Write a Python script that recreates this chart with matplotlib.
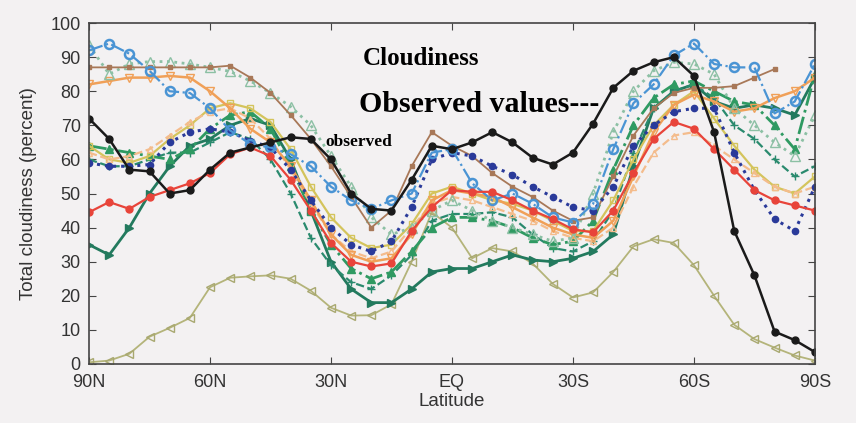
import matplotlib.pyplot as plt

# --- dados ---
lat = [90, 85, 80, 75, 70, 65, 60, 55, 50, 45, 40, 35, 30, 25, 20, 15, 10, 5, 0,
       -5, -10, -15, -20, -25, -30, -35, -40, -45, -50, -55, -60, -65, -70, -75, -80, -85, -90]

observed = [72, 66, 57, 56.5, 50, 51, 57, 62, 63.5, 65, 66.5, 66, 60, 50, 45.5, 45, 54, 64, 63,
            65, 68, 65, 60.5, 58.5, 62, 70.5, 81, 86, 88.5, 90, 84.5, 68, 39, 26, 9.5, 7, 3.5]
red = [44.5, 47.5, 45.5, 49, 51, 53, 56, 61.5, 63.5, 61, 54, 45, 35.5, 30, 28.6, 29.5, 39, 46, 51,
       50.5, 50.5, 48, 45, 42.5, 39.5, 38.6, 45, 56, 66, 71, 69, 63, 57, 51, 48, 46.5, 45]
blue = [92, 94, 91, 86, 80, 79.5, 75, 68.5, 64.5, 63.5, 61.5, 58, 52, 48, 45.5, 48, 50, 62, 63,
        53, 48, 50, 47, 43, 41.5, 47, 63, 76.5, 82, 90.5, 94, 88, 87, 87, 73.5, 77, 88]
navy = [59, 58, 58, 58.5, 65, 68, 69, 68, 65.5, 63.5, 57, 48, 40, 35, 33, 36, 46, 60, 62,
        61, 58, 55.5, 52, 49, 46, 45, 52, 64, 70, 74, 75, 75, 62, 51, 42.5, 39, 52]
brown = [87, 87, 87, 87, 87, 87, 87, 87.5, 84, 79.5, 73, 66, 58, 49, 40, 45, 58, 68, 64,
         61, 56, 52, 49, 45, 42, 43, 55, 67, 75, 79.5, 81, 81, 81.5, 84, 86.5, None, None]
sage = [93.5, 85, 88, 88.7, 88.7, 88, 87, 85.8, 83, 79.5, 75.5, 70, 61, 52, 43, 38, 40, 45, 48,
        45, 42, 40, 38, 36, 37, 50, 68, 80, 86, 88.5, 88, 85, 75, 70, 65, 61, 73]
orange = [82, 83, 84, 84, 84.5, 84, 80, 75, 69, 65, 58, 48, 38, 32, 30, 31, 38, 48, 51,
          50, 49, 46, 43, 40, 38, 37, 42, 55, 68, 76, 79, 77, 74, 75, 78, 80, 84]
peach = [62, 60, 61, 63, 67, 71, 74, 75, 72, 66, 57, 47, 38, 33, 31, 33, 40, 47, 49,
         48, 46, 44, 42, 39, 37, 36, 40, 52, 62, 67, 68, 64, 60, 56, 52, 50, 52]
yellow = [64, 60, 59, 61, 66, 70, 75, 76.5, 75, 71, 63, 52, 43, 37, 34, 35, 41, 50, 52,
          50, 48, 47, 45, 42, 39, 39, 48, 60, 70, 76, 80, 72, 64, 57, 52, 50, 55]
green_up = [64, 63, 62, 61, 60, 63, 69, 73, 74, 69, 58, 45, 35, 28, 25, 27, 33, 40, 43,
            43, 42, 40, 37, 35, 36, 42, 57, 70, 78, 82, 83, 80, 77, 76, 70, 63, 85]
teal_plus = [60, 58, 58, 60, 62, 62, 65, 68, 66, 60, 50, 37, 29, 24, 22, 26, 32, 42, 44,
             44, 44.5, 43, 38, 34, 33, 36, 45, 62, 75, 80, 82, 78, 70, 66, 60, 55, 58]
green_right = [35, 32, 40, 50, 58, 64, 66, 70, 72, 70, 60, 45, 30, 22, 18, 18, 22, 27, 28,
               28, 30, 32, 30.5, 30, 31, 33, 38, 58, 75, 80, 82, 77, 75, 76, 75, 73, 84]
olive = [0.5, 1, 3, 8, 10.6, 13.5, 22.5, 25.3, 25.7, 26, 25, 21.5, 16.5, 14.2, 14.3, 17.5, 30, 44.5, 40,
         31, 34, 33, 29.5, 23.5, 19.5, 21, 27, 34.5, 36.6, 35.5, 29, 20, 11.5, 7.3, 4.8, 2.5, 1]

xticks = [90, 60, 30, 0, -30, -60, -90]
xtick_labels = ["90N", "60N", "30N", "EQ", "30S", "60S", "90S"]

# --- grafico ---
fundo = "#f3f1f2"
fig = plt.figure(figsize=(8.56, 4.23), dpi=100, facecolor=fundo)
ax = fig.add_axes([0.104, 0.1395, 0.848, 0.806], facecolor=fundo)

ax.plot(lat, olive, "-", color="#b4b47a", marker="<", mfc="none", mec="#a8a870", ms=6, lw=1.3)
ax.plot(lat, green_right, "-", color="#237a5e", marker=">", mfc="#237a5e", ms=6, lw=2)
ax.plot(lat, teal_plus, "--", color="#2a8a6e", marker="+", ms=6, lw=1.6)
ax.plot(lat, green_up, "-.", color="#2f9a62", marker="^", mfc="#2f9a62", ms=6, lw=2)
ax.plot(lat, yellow, "-", color="#d4c45c", marker="s", mfc="none", ms=5, lw=1.6)
ax.plot(lat, peach, "--", color="#f4bc8c", marker="^", mfc="none", ms=5, lw=1.6)
ax.plot(lat, orange, "-", color="#f0a058", marker="v", mfc="none", ms=6, lw=1.8)
ax.plot(lat, sage, ":", color="#8cc0a4", marker="^", mfc="none", ms=7, lw=2)
ax.plot(lat, brown, "-", color="#a87858", marker="s", ms=3, lw=1.3)
ax.plot(lat, navy, ":", color="#2a3a9a", marker="o", ms=4.5, lw=2.2)
ax.plot(lat, blue, "-.", color="#4a94d4", marker="o", mfc="none", mew=1.8, ms=6.5, lw=1.6)
ax.plot(lat, red, "-", color="#e8443a", marker="o", ms=5, lw=1.6)
ax.plot(lat, observed, "-", color="#1a1a1a", marker="o", ms=5, lw=1.8)

ax.set_xlim(90, -90)
ax.set_ylim(0, 100)
ax.set_xticks(xticks)
ax.set_xticklabels(xtick_labels)
ax.set_yticks(range(0, 101, 10))
ax.tick_params(direction="in", length=5, top=True, right=True, labelright=False,
               labelsize=13, colors="#444444", labelcolor="#333333")
ax.tick_params(axis="x", pad=7)
ax.tick_params(axis="y", pad=6)
for s in ax.spines.values():
    s.set_color("#444444")
    s.set_linewidth(1.2)

ax.set_xlabel("Latitude", fontsize=13.5, color="#333333", labelpad=2)
ax.set_ylabel("Total cloudiness (percent)", fontsize=13.5, color="#333333", labelpad=10)
for lab in ax.get_xticklabels() + ax.get_yticklabels():
    lab.set_family("Liberation Sans")
ax.xaxis.label.set_family("Liberation Sans")
ax.yaxis.label.set_family("Liberation Sans")

# textos sobrepostos
ax.text(0.377, 0.897, "Cloudiness", transform=ax.transAxes, family="Liberation Serif",
        fontweight="bold", fontsize=18, va="center")
ax.text(0.372, 0.762, "Observed values---", transform=ax.transAxes, family="Liberation Serif",
        fontweight="bold", fontsize=21.5, va="center")
ax.text(0.325, 0.651, "observed", transform=ax.transAxes, family="Liberation Serif",
        fontweight="bold", fontsize=12.5, va="center")

fig.savefig("out.png", dpi=100, facecolor=fundo)
